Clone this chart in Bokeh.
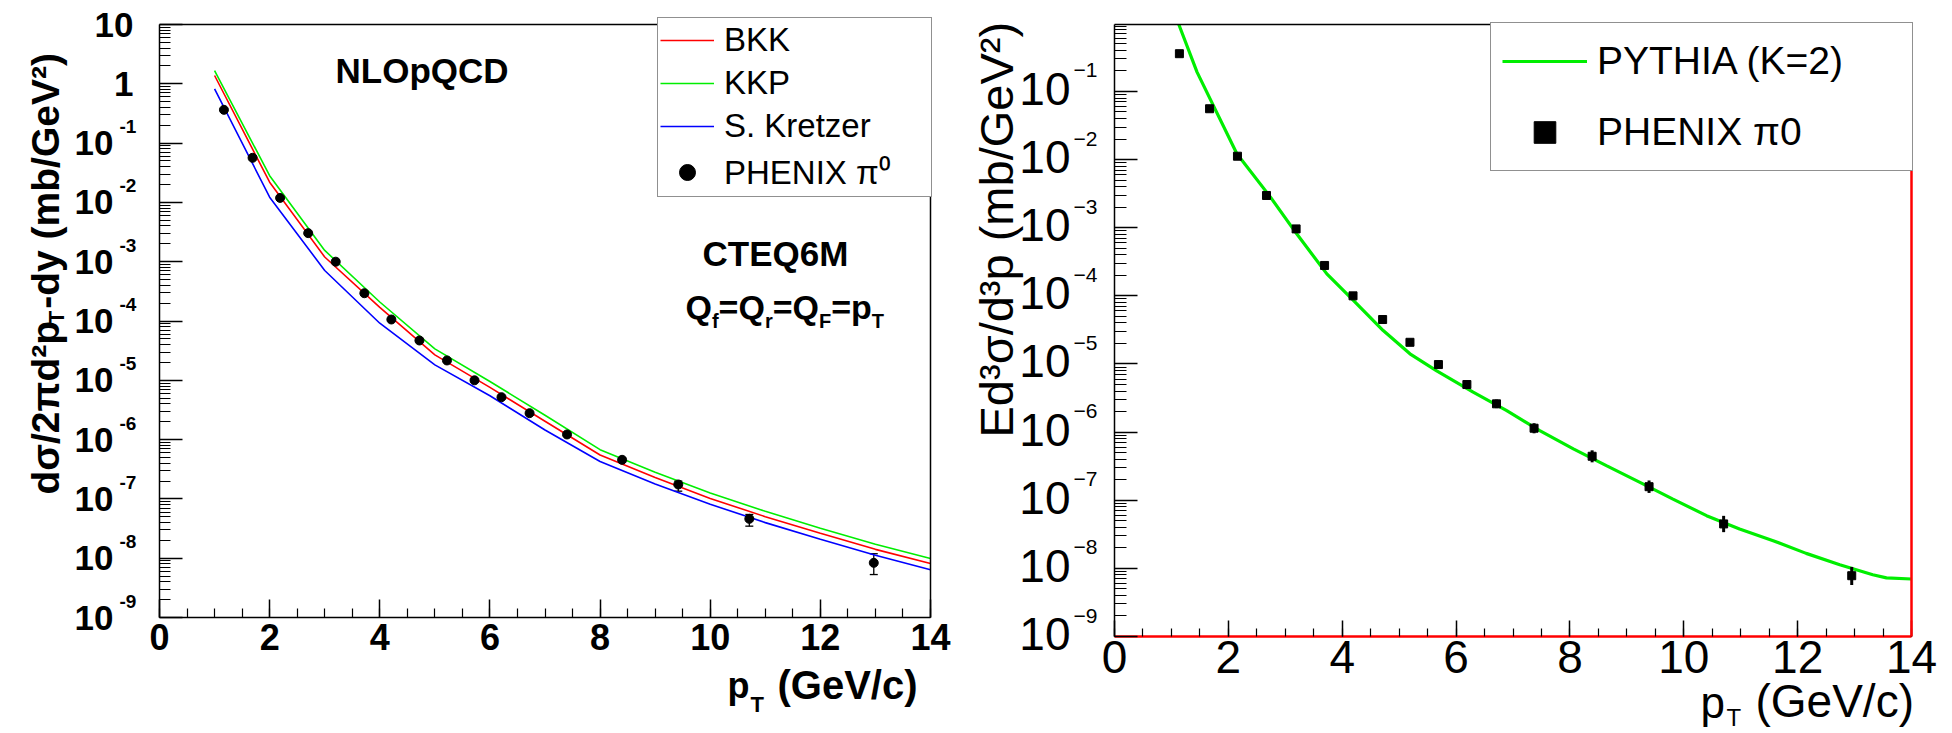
import math
from bokeh.plotting import figure
from bokeh.layouts import row
from bokeh.models import (ColumnDataSource, FixedTicker, CustomJSTickFormatter, Range1d,
                          Label, LabelSet, Legend, LegendItem, Whisker, TeeHead,
                          LinearAxis, LogAxis)
from bokeh.core.properties import value
from bokeh.embed import file_html
from bokeh.resources import INLINE

FONT = "Liberation Sans"

# ---------------- data: left panel (NLO pQCD) ----------------
nlo_pt = [1, 2, 3, 4, 5, 6, 7, 8, 9, 10, 11, 12, 13, 14]
bkk = [1.38, 0.0219, 1.20e-3, 1.70e-4, 2.69e-5, 7.59e-6, 2.04e-6, 5.50e-7, 2.29e-7,
       1.02e-7, 5.01e-8, 2.63e-8, 1.41e-8, 8.13e-9]
kkp = [1.67, 0.0282, 1.55e-3, 2.09e-4, 3.39e-5, 9.55e-6, 2.57e-6, 6.76e-7, 2.82e-7,
       1.26e-7, 6.17e-8, 3.20e-8, 1.72e-8, 9.86e-9]
kretzer = [0.822, 0.01225, 7.11e-4, 9.18e-5, 1.82e-5, 5.5e-6, 1.45e-6, 4.27e-7, 1.78e-7,
           8.13e-8, 3.98e-8, 2.09e-8, 1.12e-8, 6.37e-9]

phenix_pt_L = [1.17, 1.69, 2.19, 2.70, 3.20, 3.72, 4.21, 4.72, 5.22, 5.72, 6.21, 6.72,
               7.40, 8.40, 9.42, 10.71, 12.97]
phenix_L = [0.364, 0.0565, 0.0119, 3.03e-3, 1.0e-3, 2.94e-4, 1.06e-4, 4.69e-5, 2.16e-5,
            1.0e-5, 5.19e-6, 2.79e-6, 1.22e-6, 4.56e-7, 1.75e-7, 4.61e-8, 8.35e-9]
phenix_L_lo = [0.35, 0.054, 0.0114, 2.90e-3, 0.96e-3, 2.81e-4, 1.01e-4, 4.48e-5, 2.06e-5,
               0.95e-5, 4.93e-6, 2.64e-6, 1.15e-6, 4.15e-7, 1.35e-7, 3.47e-8, 5.3e-9]
phenix_L_hi = [0.38, 0.059, 0.0124, 3.16e-3, 1.04e-3, 3.07e-4, 1.11e-4, 4.90e-5, 2.26e-5,
               1.05e-5, 5.45e-6, 2.94e-6, 1.29e-6, 5.0e-7, 2.0e-7, 5.46e-8, 1.19e-8]

# ---------------- data: right panel (PYTHIA) ----------------
# the curve enters the panel through its top edge at pT ~ 1.13
pythia_pt = [1.13, 1.45, 2.15, 2.74, 3.20, 3.73, 4.20, 4.72, 5.19, 5.66, 6.30, 6.89, 7.47,
             8.06, 8.64, 9.23, 9.81, 10.40, 10.98, 11.57, 12.15, 12.74, 13.32, 13.56, 14.0]
pythia = [0.96, 0.192, 0.01216, 2.81e-3, 8.13e-4, 2.10e-4, 8.53e-5, 3.09e-5, 1.41e-5,
          7.94e-6, 3.85e-6, 2.07e-6, 1.05e-6, 5.66e-7, 3.22e-7, 1.83e-7, 1.04e-7, 5.94e-8,
          3.78e-8, 2.55e-8, 1.66e-8, 1.13e-8, 8.07e-9, 7.24e-9, 6.98e-9]

phenix_pt_R = [1.14, 1.67, 2.16, 2.67, 3.19, 3.69, 4.19, 4.71, 5.19, 5.69, 6.19, 6.71,
               7.37, 8.39, 9.39, 10.70, 12.95]
phenix_R = [0.358, 0.0557, 0.0112, 2.97e-3, 9.6e-4, 2.79e-4, 1.0e-4, 4.49e-5, 2.08e-5,
            9.8e-6, 4.99e-6, 2.6e-6, 1.14e-6, 4.42e-7, 1.58e-7, 4.49e-8, 7.8e-9]
phenix_R_lo = [0.33, 0.0515, 0.0103, 2.72e-3, 8.8e-4, 2.55e-4, 9.1e-5, 4.08e-5, 1.88e-5,
               8.8e-6, 4.4e-6, 2.25e-6, 9.6e-7, 3.6e-7, 1.28e-7, 3.4e-8, 5.7e-9]
phenix_R_hi = [0.39, 0.0605, 0.0122, 3.25e-3, 1.05e-3, 3.05e-4, 1.1e-4, 4.95e-5, 2.3e-5,
               1.09e-5, 5.65e-6, 3.0e-6, 1.35e-6, 5.4e-7, 1.95e-7, 5.9e-8, 1.05e-8]

# ---------------- ticks ----------------
x_major = [0, 2, 4, 6, 8, 10, 12, 14]
x_minor = [0.5 * i for i in range(29)]
L_ytick_vals = [10, 1, 1e-1, 1e-2, 1e-3, 1e-4, 1e-5, 1e-6, 1e-7, 1e-8, 1e-9]
L_plain_vals = [10, 1]
L_plain_text = ["10", "1"]
L_exp_vals = [1e-1, 1e-2, 1e-3, 1e-4, 1e-5, 1e-6, 1e-7, 1e-8, 1e-9]
L_exp_text = ["-1", "-2", "-3", "-4", "-5", "-6", "-7", "-8", "-9"]
R_exp_vals = [1e-1, 1e-2, 1e-3, 1e-4, 1e-5, 1e-6, 1e-7, 1e-8, 1e-9]
R_exp_text = ["\u22121", "\u22122", "\u22123", "\u22124", "\u22125", "\u22126", "\u22127",
              "\u22128", "\u22129"]

# ---------------- geometry (page pixels) ----------------
LW, RW, H = 965, 987, 733
LF = dict(left=159, right=930, top=24, bottom=617)     # drawn frame, left panel
RF = dict(left=1114, right=1911, top=24, bottom=636)   # drawn frame, right panel
R_TOP = 0.96
R_TOP_LOG = math.log10(R_TOP)
L_YMIN, L_YMAX, R_YMIN = 1e-9, 10, 1e-9
MID = 0.35   # em fraction from baseline to the centre used by text_baseline="middle"


def lx(px):
    return (px - LF["left"]) * 14.0 / (LF["right"] - LF["left"])


def ly(py):
    return 10 ** (1 - (py - LF["top"]) * 10.0 / (LF["bottom"] - LF["top"]))


def rx(px):
    return (px - RF["left"]) * 14.0 / (RF["right"] - RF["left"])


def ry(py):
    return 10 ** (R_TOP_LOG - (py - RF["top"]) * (R_TOP_LOG + 9) / (RF["bottom"] - RF["top"]))


L_DEC = (LF["bottom"] - LF["top"]) / 10.0
R_DEC = (RF["bottom"] - RF["top"]) / (R_TOP_LOG + 9)

W_BOLD = {' ': .278, '(': .333, ')': .333, '-': .333, '/': .278, '=': .584,
          'F': .611, 'G': .778, 'Q': .778, 'T': .611, 'V': .667,
          'b': .611, 'c': .556, 'd': .611, 'e': .556, 'f': .333, 'm': .889, 'p': .611,
          'r': .389, 'y': .556, '\u03c3': .62, '\u03c0': .62, '\u00b2': .333}


def tw(s, size):
    return sum(W_BOLD.get(c, .556) for c in s) * size


def base_style(p):
    p.title.visible = False
    p.xgrid.visible = False
    p.ygrid.visible = False
    p.outline_line_color = None
    p.background_fill_color = "white"
    p.border_fill_color = "white"


def style_axes(p, xmaj, xmin, ymaj, ymin, xsize, bold, standoff, ylo, yhi, bottom_color):
    xa = p.xaxis[0]
    xa.ticker = FixedTicker(ticks=x_major, minor_ticks=x_minor)
    xa.fixed_location = ylo
    xa.bounds = (0, 14)
    xa.major_tick_in = xmaj
    xa.major_tick_out = 0
    xa.minor_tick_in = xmin
    xa.minor_tick_out = 0
    xa.major_label_text_font = FONT
    xa.major_label_text_font_size = f"{xsize}px"
    xa.major_label_text_font_style = "bold" if bold else "normal"
    xa.major_label_text_color = "black"
    xa.major_label_standoff = standoff
    ya = p.yaxis[0]
    ya.fixed_location = 0
    ya.bounds = (ylo, yhi)
    ya.major_tick_in = ymaj
    ya.major_tick_out = 0
    ya.minor_tick_in = ymin
    ya.minor_tick_out = 0
    ya.formatter = CustomJSTickFormatter(code="return ''")
    ya.major_label_standoff = 0
    for a in (xa, ya):
        a.axis_line_color = "black"
        a.axis_line_width = 1.5
        a.major_tick_line_color = "black"
        a.major_tick_line_width = 1.5
        a.minor_tick_line_color = "black"
        a.minor_tick_line_width = 1.2
    xa.axis_line_color = bottom_color
    xa.axis_line_width = 2.5 if bottom_color != "black" else 1.5


def frame_edges(p, ylo, yhi, right_color):
    top = LinearAxis(fixed_location=yhi, bounds=(0, 14), ticker=FixedTicker(ticks=[]),
                     formatter=CustomJSTickFormatter(code="return ''"),
                     major_tick_line_color=None, minor_tick_line_color=None,
                     axis_line_color="black", axis_line_width=1.5)
    p.add_layout(top, "above")
    right = LogAxis(fixed_location=14, bounds=(ylo, yhi), ticker=FixedTicker(ticks=[]),
                    formatter=CustomJSTickFormatter(code="return ''"),
                    major_tick_line_color=None, minor_tick_line_color=None,
                    axis_line_color=right_color,
                    axis_line_width=2.5 if right_color != "black" else 1.5)
    p.add_layout(right, "right")


def htext(p, fx, fy, px, base, s, size, bold=False, align="left"):
    """horizontal text whose alphabetic baseline sits at page row `base`"""
    p.add_layout(Label(x=fx(px), y=fy(base - MID * size), text=s, text_font=FONT,
                       text_font_style="bold" if bold else "normal",
                       text_font_size=f"{size}px", text_align=align,
                       text_baseline="middle", text_color="black"))


def vtext(p, fx, fy, basex, start, s, size, bold=False):
    """text rotated to read upwards; baseline at page column `basex`, starting at row `start`"""
    p.add_layout(Label(x=fx(basex - MID * size), y=fy(start), text=s, angle=math.pi / 2,
                       text_font=FONT, text_font_style="bold" if bold else "normal",
                       text_font_size=f"{size}px", text_align="left",
                       text_baseline="middle", text_color="black"))


# ======================= LEFT FIGURE =======================
pL = figure(width=LW, height=H, y_axis_type="log", x_range=Range1d(lx(0), lx(LW)),
            y_range=Range1d(ly(H), ly(0)), output_backend="svg", toolbar_location=None,
            title_location=None, min_border=0)
base_style(pL)
style_axes(pL, 18, 9, 23, 11, 36, True, 6, L_YMIN, L_YMAX, "black")
pL.yaxis[0].ticker = FixedTicker(
    ticks=L_ytick_vals,
    minor_ticks=[m * 10 ** k for k in range(-9, 1) for m in range(2, 10)])
frame_edges(pL, L_YMIN, L_YMAX, "black")

r_bkk = pL.line(nlo_pt, bkk, line_color="#ff0000", line_width=1.6)
r_kkp = pL.line(nlo_pt, kkp, line_color="#00ee00", line_width=1.6)
r_kre = pL.line(nlo_pt, kretzer, line_color="#0000ff", line_width=1.6)
srcL = ColumnDataSource(dict(x=phenix_pt_L, y=phenix_L, lo=phenix_L_lo, hi=phenix_L_hi))
pL.add_layout(Whisker(base="x", lower="lo", upper="hi", source=srcL, line_color="black",
                      line_width=1.3,
                      upper_head=TeeHead(size=8, line_color="black", line_width=1.3),
                      lower_head=TeeHead(size=8, line_color="black", line_width=1.3)))
r_phL = pL.scatter("x", "y", source=srcL, marker="circle", size=9, color="black")

# y tick labels: "10" with exponent
pL.add_layout(LabelSet(x="x", y="y", text="t", x_offset=-26, text_align="right",
                       text_baseline="middle", text_font=value(FONT),
                       text_font_style="bold", text_font_size="35px", text_color="black",
                       source=ColumnDataSource(dict(x=[0] * len(L_plain_vals),
                                                    y=L_plain_vals, t=L_plain_text))))
pL.add_layout(LabelSet(x="x", y="y", text="t", x_offset=-46, text_align="right",
                       text_baseline="middle", text_font=value(FONT),
                       text_font_style="bold", text_font_size="35px", text_color="black",
                       source=ColumnDataSource(dict(x=[0] * len(L_exp_vals), y=L_exp_vals,
                                                    t=["10"] * len(L_exp_vals)))))
pL.add_layout(LabelSet(x="x", y="y", text="t", x_offset=-40, text_align="left",
                       text_baseline="middle", text_font=value(FONT),
                       text_font_style="bold", text_font_size="19px", text_color="black",
                       source=ColumnDataSource(dict(
                           x=[0] * len(L_exp_vals),
                           y=[v * 10 ** (16.5 / L_DEC) for v in L_exp_vals],
                           t=L_exp_text))))

# rotated y title: d sigma / 2 pi d^2 p_T - dy (mb/GeV^2)
py = 494
for s, size, bx, adv in [("d\u03c3/2\u03c0d\u00b2p", 39, 59, 1.03), ("T", 22, 64, 1.15),
                         ("-dy (mb/GeV\u00b2)", 39, 59, 0.96)]:
    vtext(pL, lx, ly, bx, py, s, size, bold=True)
    py -= tw(s, size) * adv

# x title
htext(pL, lx, ly, 727, 698, "p", 36, bold=True)
htext(pL, lx, ly, 750, 712, "T", 22, bold=True)
htext(pL, lx, ly, 777, 698, "(GeV/c)", 40, bold=True)

# in-frame texts
htext(pL, lx, ly, 335, 82, "NLOpQCD", 35, bold=True)
htext(pL, lx, ly, 702, 265, "CTEQ6M", 35, bold=True)
qx = 685
for s, size, base in [("Q", 34, 318), ("f", 20, 327), ("=Q", 34, 318), ("r", 20, 327),
                      ("=Q", 34, 318), ("F", 20, 327), ("=p", 34, 318), ("T", 20, 327)]:
    htext(pL, lx, ly, qx, base, s, size, bold=True)
    qx += tw(s, size)

legL = Legend(items=[LegendItem(label="BKK", renderers=[r_bkk]),
                     LegendItem(label="KKP", renderers=[r_kkp]),
                     LegendItem(label="S. Kretzer", renderers=[r_kre]),
                     LegendItem(label="PHENIX \u03c0\u2070", renderers=[r_phL])],
              location=(657, H - 197), margin=0, padding=2, spacing=3, label_height=40,
              glyph_height=40, glyph_width=54, label_standoff=10, label_width=205,
              label_text_font=FONT, label_text_font_size="33px", label_text_color="black",
              border_line_color="#222222", border_line_width=1.5,
              background_fill_color="white", background_fill_alpha=1.0)
pL.add_layout(legL)

# ======================= RIGHT FIGURE =======================
pR = figure(width=RW, height=H, y_axis_type="log", x_range=Range1d(rx(LW), rx(LW + RW)),
            y_range=Range1d(ry(H), ry(0)), output_backend="svg", toolbar_location=None,
            title_location=None, min_border=0)
base_style(pR)
style_axes(pR, 16, 8, 23, 12, 46, False, 4, R_YMIN, R_TOP, "#ff0000")
pR.yaxis[0].ticker = FixedTicker(
    ticks=R_exp_vals,
    minor_ticks=[m * 10 ** k for k in range(-9, 0) for m in range(2, 10)])
frame_edges(pR, R_YMIN, R_TOP, "#ff0000")

r_py = pR.line(pythia_pt, pythia, line_color="#00ee00", line_width=3.2)
srcR = ColumnDataSource(dict(x=phenix_pt_R, y=phenix_R, lo=phenix_R_lo, hi=phenix_R_hi))
pR.segment(x0="x", y0="lo", x1="x", y1="hi", source=srcR, line_color="black", line_width=3)
r_phR = pR.scatter("x", "y", source=srcR, marker="square", size=8, color="black")

pR.add_layout(LabelSet(x="x", y="y", text="t", x_offset=-44, text_align="right",
                       text_baseline="middle", text_font=value(FONT),
                       text_font_size="46px", text_color="black",
                       source=ColumnDataSource(dict(
                           x=[0] * len(R_exp_vals),
                           y=[v * 10 ** (2.5 / R_DEC) for v in R_exp_vals],
                           t=["10"] * len(R_exp_vals)))))
pR.add_layout(LabelSet(x="x", y="y", text="t", x_offset=-41, text_align="left",
                       text_baseline="middle", text_font=value(FONT),
                       text_font_size="21px", text_color="black",
                       source=ColumnDataSource(dict(
                           x=[0] * len(R_exp_vals),
                           y=[v * 10 ** (21 / R_DEC) for v in R_exp_vals],
                           t=R_exp_text))))

vtext(pR, rx, ry, 1012, 437, "Ed\u00b3\u03c3/d\u00b3p (mb/GeV\u00b2)", 47)

htext(pR, rx, ry, 1700, 717, "p", 44)
htext(pR, rx, ry, 1726, 725, "T", 24)
htext(pR, rx, ry, 1755, 717, "(GeV/c)", 46)

legR = Legend(items=[LegendItem(label="PYTHIA (K=2)", renderers=[r_py]),
                     LegendItem(label="PHENIX \u03c00", renderers=[r_phR])],
              location=(1490 - LW, H - 171), margin=0, padding=11, spacing=17,
              label_height=54, glyph_height=54, glyph_width=85, label_standoff=10,
              label_width=304, label_text_font=FONT, label_text_font_size="39px",
              label_text_color="black", border_line_color="#222222", border_line_width=1.5,
              background_fill_color="white", background_fill_alpha=1.0)
pR.add_layout(legR)

layout = row(pL, pR)
open("out.html", "w").write(file_html(layout, INLINE))
